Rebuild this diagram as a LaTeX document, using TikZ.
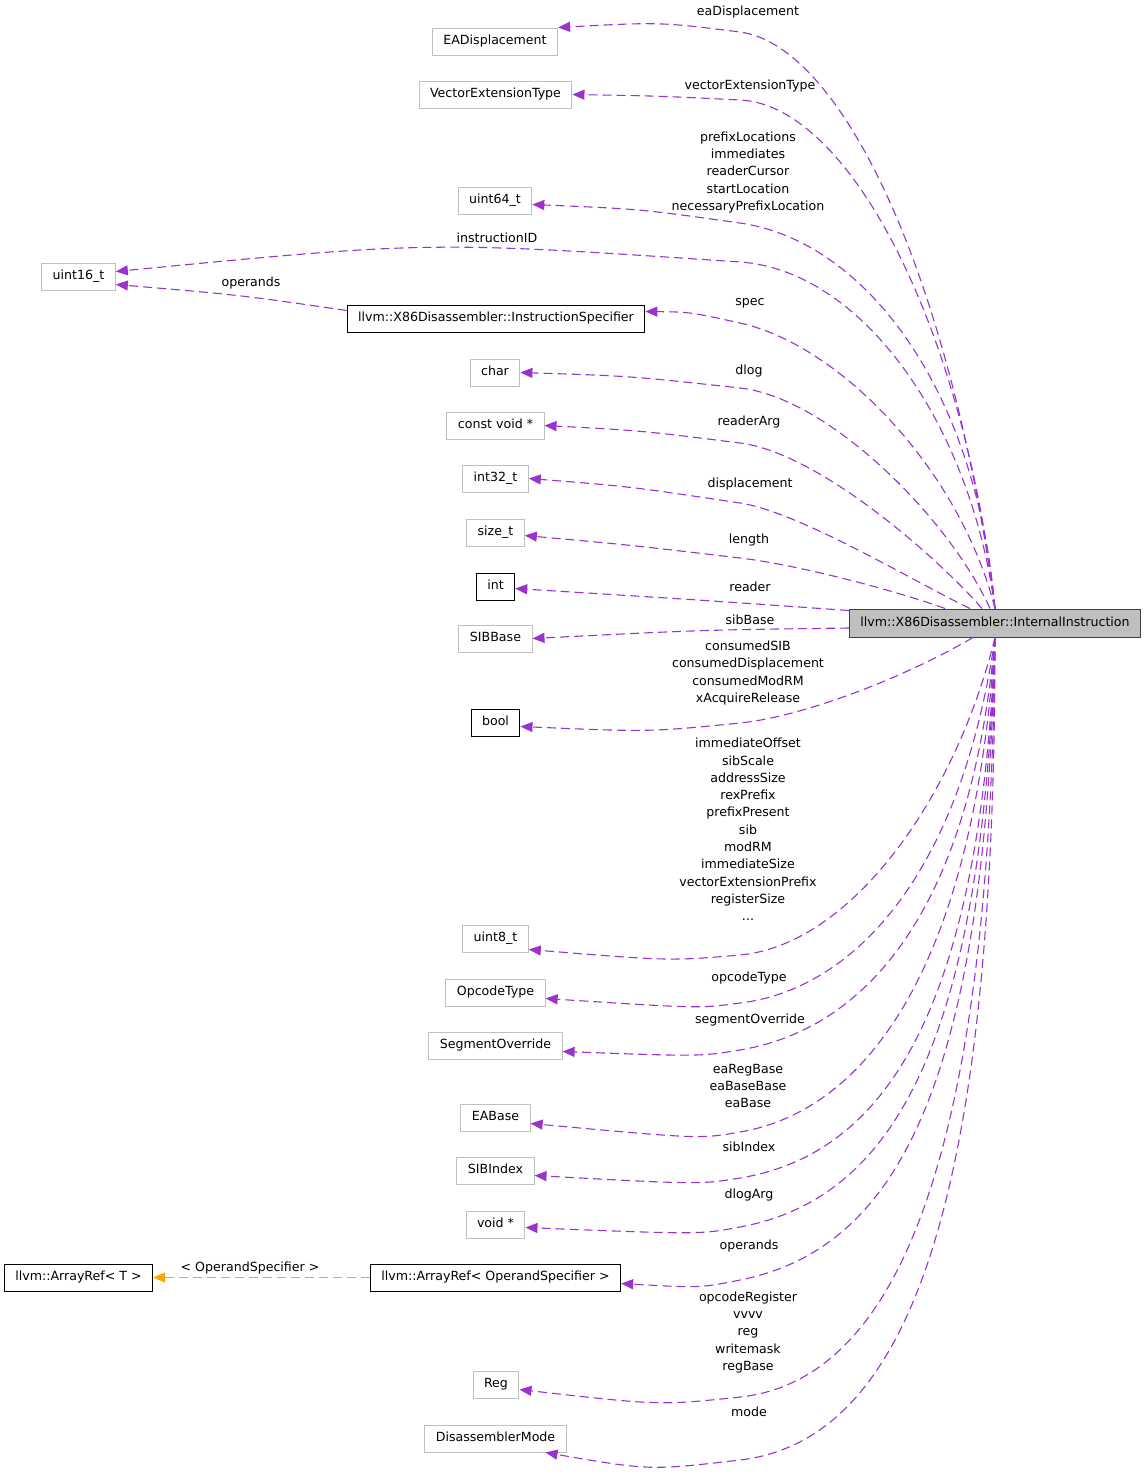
\documentclass[tikz,border=0pt]{standalone}
\usepackage{fontspec}
\setmainfont{DejaVu Sans}
\usetikzlibrary{arrows.meta}
\definecolor{edgepurple}{HTML}{9A32CD}
\definecolor{edgeorange}{HTML}{FFA500}
\definecolor{boxgray}{HTML}{BFBFBF}
\newcommand{\dgfont}{\fontsize{12.6}{17.3}\selectfont}
\tikzset{
  % --- Class boxes -------------------------------------------
  cls/.style={draw=boxgray, fill=white, line width=1pt, font=\dgfont,
    minimum height=27pt, inner xsep=11pt, inner ysep=0pt,
    text height=9.5pt, text depth=2.8pt},
  clsdoc/.style={cls, draw=black},
  clsmain/.style={cls, draw=black!75, fill=boxgray, minimum height=28pt},
  % --- Edges -------------------------------------------------
  member/.style={->, >={Triangle[length=12pt,width=10pt]}, draw=edgepurple,
    line width=1.1pt, dash pattern=on 9pt off 5pt},
  tmpl/.style={->, >={Triangle[length=12pt,width=10pt]}, draw=edgeorange,
    line width=1.2pt, dash pattern=on 9pt off 5pt},
  lbl/.style={font=\dgfont, align=center, inner sep=0pt}
}
\begin{document}
\begin{tikzpicture}[x=1pt, y=-1pt]
  \useasboundingbox (0,0) rectangle (1147,1476);

  % --- Main class ---------------------------------------------------
  \node[clsmain] (ii) at (995,623) {llvm::X86Disassembler::InternalInstruction};

  % --- Member types -------------------------------------------------
  \node[cls] (ead) at (495,41.5) {EADisplacement};
  \node[cls] (vet) at (495.5,94.5) {VectorExtensionType};
  \node[cls] (u64) at (495,200.5) {uint64\_t};
  \node[cls] (u16) at (78.5,276.5) {uint16\_t};
  \node[clsdoc] (spec) at (496,318.5) {llvm::X86Disassembler::InstructionSpecifier};
  \node[cls] (chr) at (495,372.5) {char};
  \node[cls] (cvoid) at (495.5,425.5) {const void *};
  \node[cls] (i32) at (495.5,478.5) {int32\_t};
  \node[cls] (sizet) at (495.5,532.5) {size\_t};
  \node[clsdoc] (intn) at (495.5,586.5) {int};
  \node[cls] (sibbase) at (495.5,638.5) {SIBBase};
  \node[clsdoc] (booln) at (495.5,722.5) {bool};
  \node[cls] (u8) at (495.5,938.5) {uint8\_t};
  \node[cls] (opcode) at (495.5,992.5) {OpcodeType};
  \node[cls] (segov) at (495.5,1045.5) {SegmentOverride};
  \node[cls] (eabase) at (495.5,1117.5) {EABase};
  \node[cls] (sibidx) at (495.5,1170.5) {SIBIndex};
  \node[cls] (voidp) at (495.5,1224.5) {void *};
  \node[clsdoc] (arrop) at (495.5,1277.5) {llvm::ArrayRef< OperandSpecifier >};
  \node[clsdoc] (arrt) at (78.5,1277.5) {llvm::ArrayRef< T >};
  \node[cls] (reg) at (496,1384.5) {Reg};
  \node[cls] (dmode) at (495.5,1438.5) {DisassemblerMode};

  % --- Edges above the main class -----------------------------------
  \draw[member] (ii.north) .. controls (950,270) and (840,45) .. (740,32) .. controls (660,22) .. (ead.north east);
  \draw[member] (ii.north) .. controls (965,330) and (850,105) .. (740,100) .. controls (660,96) .. (vet.east);
  \draw[member] (ii.north) .. controls (975,380) and (860,240) .. (740,223) .. controls (640,209) .. ([yshift=-4pt]u64.east);
  \draw[member] (ii.north) .. controls (970,420) and (860,270) .. (740,262) .. controls (430,241) .. ([yshift=5pt]u16.east);
  \draw[member] (ii.north) .. controls (960,470) and (840,345) .. (740,323) .. controls (690,312) .. ([yshift=7pt]spec.east);
  \draw[member] ([xshift=-5pt]ii.north) .. controls (950,520) and (830,398) .. (740,388) .. controls (630,376) .. (chr.east);
  \draw[member] ([xshift=-13pt]ii.north) .. controls (940,560) and (820,453) .. (740,443) .. controls (640,430.5) .. (cvoid.east);
  \draw[member] ([xshift=-25pt]ii.north) .. controls (920,585) and (800,512) .. (740,503) .. controls (630,486.5) .. (i32.east);
  \draw[member] ([xshift=-50pt]ii.north) .. controls (900,592) and (800,565) .. (740,558) .. controls (630,545) .. ([yshift=-3pt]sizet.east);
  \draw[member] ([yshift=-2pt]ii.north west) .. controls (700,600) .. ([yshift=-2pt]intn.east);
  \draw[member] ([yshift=-5pt]ii.west) .. controls (700,630) .. (sibbase.east);
  \draw[member] ([yshift=8pt]spec.west) .. controls (240,295) .. ([yshift=-8pt]u16.east);

  % --- Edges below the main class -----------------------------------
  \draw[member] ([xshift=-22pt]ii.south) .. controls (900,680) and (800,717) .. (740,723) .. controls (650,732) .. ([yshift=-4pt]booln.east);
  \draw[member] (ii.south) .. controls (955,800) and (850,945) .. (740,955) .. controls (670,961) .. ([yshift=-11pt]u8.east);
  \draw[member] (ii.south) .. controls (960,880) and (850,990) .. (740,1003) .. controls (700,1008.5) .. ([yshift=-6pt]opcode.east);
  \draw[member] (ii.south) .. controls (970,920) and (860,1030) .. (740,1050) .. controls (700,1056.5) .. ([yshift=-6pt]segov.east);
  \draw[member] (ii.south) .. controls (975,960) and (870,1110) .. (740,1132) .. controls (700,1139) .. ([yshift=-6pt]eabase.east);
  \draw[member] (ii.south) .. controls (980,1020) and (880,1155) .. (740,1178) .. controls (700,1184.5) .. ([yshift=-5pt]sibidx.east);
  \draw[member] (ii.south) .. controls (982,1060) and (885,1200) .. (740,1227) .. controls (700,1234.5) .. ([yshift=-3pt]voidp.east);
  \draw[member] (ii.south) .. controls (985,1100) and (890,1250) .. (740,1280) .. controls (700,1288) .. ([yshift=-6pt]arrop.east);
  \draw[member] (ii.south) .. controls (990,1150) and (900,1380) .. (740,1397) .. controls (660,1405.5) .. ([yshift=-5pt]reg.east);
  \draw[member] (ii.south) .. controls (995,1200) and (910,1440) .. (740,1460) .. controls (650,1470.5) .. ([xshift=50pt]dmode.south);
  \draw[tmpl] (arrop.west) -- (arrt.east);

  % --- Edge labels --------------------------------------------------
  \node[lbl] (lead) at (748,12) {eaDisplacement};
  \node[lbl] (lvet) at (750,86) {vectorExtensionType};
  \node[lbl] (lpfx) at (748,172.5) {prefixLocations\\immediates\\readerCursor\\startLocation\\necessaryPrefixLocation};
  \node[lbl] (linid) at (497,238) {instructionID};
  \node[lbl] (lopsa) at (251,283) {operands};
  \node[lbl] (lspec) at (750,303) {spec};
  \node[lbl] (ldlog) at (749,371) {dlog};
  \node[lbl] (lrarg) at (749,422) {readerArg};
  \node[lbl] (ldisp) at (750,484) {displacement};
  \node[lbl] (llen) at (749,540) {length};
  \node[lbl] (lrdr) at (750,587) {reader};
  \node[lbl] (lsibb) at (750,620) {sibBase};
  \node[lbl] (lcons) at (748,673) {consumedSIB\\consumedDisplacement\\consumedModRM\\xAcquireRelease};
  \node[lbl] (limm) at (748,829.5) {immediateOffset\\sibScale\\addressSize\\rexPrefix\\prefixPresent\\sib\\modRM\\immediateSize\\vectorExtensionPrefix\\registerSize\\...};
  \node[lbl] (lopc) at (749,978) {opcodeType};
  \node[lbl] (lseg) at (750,1020) {segmentOverride};
  \node[lbl] (lea) at (748,1086) {eaRegBase\\eaBaseBase\\eaBase};
  \node[lbl] (lsibi) at (749,1147) {sibIndex};
  \node[lbl] (ldarg) at (749,1195) {dlogArg};
  \node[lbl] (lopsb) at (749,1246) {operands};
  \node[lbl] (lreg) at (748,1332.5) {opcodeRegister\\vvvv\\reg\\writemask\\regBase};
  \node[lbl] (lmode) at (749,1412) {mode};
  \node[lbl] (ltmpl) at (250,1268) {< OperandSpecifier >};

\end{tikzpicture}
\end{document}
